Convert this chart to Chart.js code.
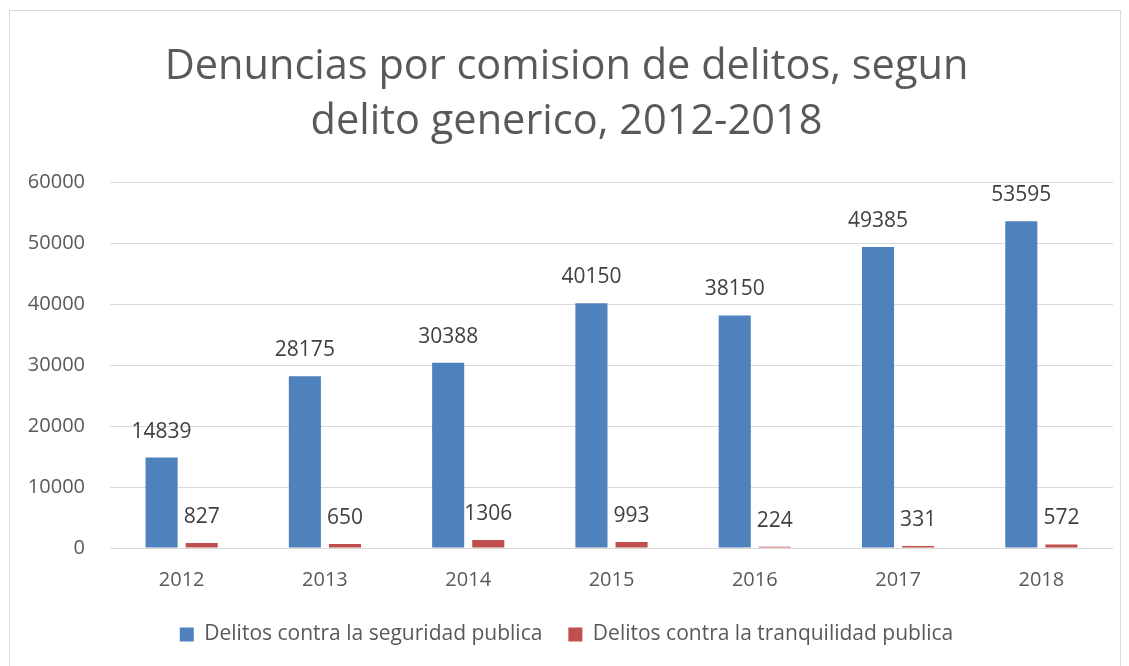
<!DOCTYPE html>
<html>
<head>
<meta charset="utf-8">
<script src="https://cdn.jsdelivr.net/npm/chart.js@4"></script>
<style>
  body { margin: 0; background: #fff; }
  #wrap { position: absolute; left: 0; top: 0; width: 1129px; height: 666px; }
  #frame { position: absolute; left: 9px; top: 10px; width: 1110px; height: 700px; border: 1px solid #d9d9d9; }
</style>
</head>
<body>
<div id="wrap">
  <div id="frame"></div>
  <canvas id="myChart" width="1129" height="666"></canvas>
</div>
<script>
var years = ['2012', '2013', '2014', '2015', '2016', '2017', '2018'];
var seguridad = [14839, 28175, 30388, 40150, 38150, 49385, 53595];
var tranquilidad = [827, 650, 1306, 993, 224, 331, 572];
var titleLines = ['Denuncias por comision de delitos, segun', 'delito generico, 2012-2018'];
var fontName = "'Open Sans', sans-serif";

// labels over each bar
var valueLabels = {
    id: 'valueLabels',
    afterDatasetsDraw: function (chart) {
        var ctx = chart.ctx;
        ctx.save();
        ctx.font = '21px ' + fontName;
        ctx.fillStyle = '#404040';
        ctx.textAlign = 'center';
        ctx.textBaseline = 'middle';
        chart.data.datasets.forEach(function (ds, i) {
            chart.getDatasetMeta(i).data.forEach(function (bar, j) {
                ctx.fillText(ds.data[j], bar.x, bar.y - 26);
            });
        });
        ctx.restore();
    }
};

var ctx = document.getElementById('myChart');
var chart = new Chart(ctx, {
    type: 'bar',
    data: {
        labels: years,
        datasets: [{
            label: 'Delitos contra la seguridad publica',
            data: seguridad,
            backgroundColor: '#4f81bd',
            barPercentage: 0.8,
            categoryPercentage: 0.56
        }, {
            label: 'Delitos contra la tranquilidad publica',
            data: tranquilidad,
            backgroundColor: '#c0504d',
            barPercentage: 0.8,
            categoryPercentage: 0.56
        }]
    },
    options: {
        responsive: false,
        animation: false,
        layout: { padding: { left: 20, right: 16, top: 20, bottom: 11 } },
        plugins: {
            title: {
                display: true,
                text: titleLines,
                color: '#595959',
                font: { family: fontName, size: 41.5, weight: 'normal', lineHeight: 1.34 },
                padding: { top: 19, bottom: 32 }
            },
            legend: {
                position: 'bottom',
                labels: {
                    color: '#595959',
                    font: { family: fontName, size: 21 },
                    boxWidth: 14,
                    boxHeight: 14,
                    padding: 26
                }
            },
            tooltip: { enabled: false }
        },
        scales: {
            x: {
                grid: { display: false },
                border: { display: false },
                ticks: { color: '#595959', font: { family: fontName, size: 20 }, padding: 12 },
                afterFit: function (scale) { scale.height = 50; }
            },
            y: {
                min: 0,
                max: 60000,
                ticks: {
                    stepSize: 10000,
                    color: '#595959',
                    font: { family: fontName, size: 20 },
                    padding: 25,
                    callback: function (v) { return String(v); }
                },
                grid: { color: '#d9d9d9', drawTicks: false },
                border: { display: false },
                afterFit: function (scale) { scale.width = 90; }
            }
        }
    },
    plugins: [valueLabels]
});
</script>
</body>
</html>
